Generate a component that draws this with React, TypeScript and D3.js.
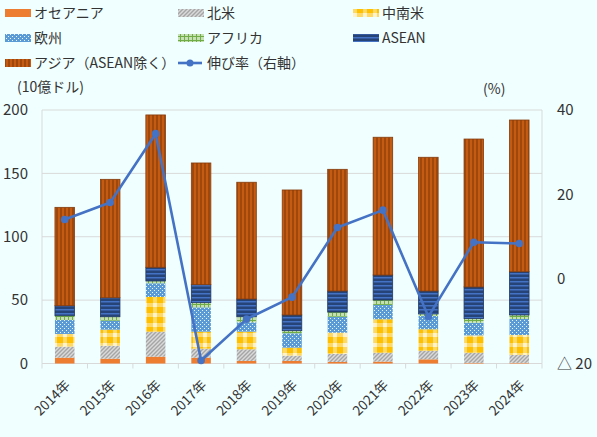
import React, { useEffect, useRef } from 'react';
import * as d3 from 'd3';

const years = ['2014年', '2015年', '2016年', '2017年', '2018年', '2019年', '2020年', '2021年', '2022年', '2023年', '2024年'];

// 地域別の値（10億ドル）
const oceania = [4.6, 3.8, 5.4, 4.6, 2.0, 2.0, 1.2, 1.5, 3.3, 0.5, 0.5];
const northAmerica = [8.7, 10.2, 19.7, 7.1, 9.2, 4.2, 6.3, 7.0, 6.8, 8.0, 6.2];
const latinAmerica = [10.0, 12.7, 27.4, 13.4, 13.9, 6.3, 16.8, 26.4, 16.9, 13.7, 15.8];
const europe = [11.0, 7.1, 10.8, 19.2, 7.4, 11.3, 12.6, 11.3, 10.5, 10.0, 12.6];
const africa = [3.4, 3.1, 1.8, 3.7, 4.4, 2.1, 3.7, 3.9, 1.6, 3.2, 3.2];
const asean = [7.9, 15.0, 10.8, 14.2, 14.0, 12.4, 16.6, 19.7, 18.1, 25.0, 34.1];
const asiaExAsean = [77.6, 93.4, 120.2, 96.0, 92.1, 98.6, 96.0, 108.7, 105.5, 116.7, 119.7];

// 伸び率（％、右軸）
const growth = [14.1, 18.1, 34.4, -19.3, -9.5, -4.3, 12.2, 16.3, -8.9, 8.7, 8.4];

const leftTicks = [0, 50, 100, 150, 200];
const rightTicks = [-20, 0, 20, 40];

const series = [
  { name: 'オセアニア', values: oceania, fill: '#ED7D31', stroke: 'none' },
  { name: '北米', values: northAmerica, fill: 'url(#p-na)', stroke: 'none' },
  { name: '中南米', values: latinAmerica, fill: 'url(#p-la)', stroke: 'none' },
  { name: '欧州', values: europe, fill: 'url(#p-eu)', stroke: 'none' },
  { name: 'アフリカ', values: africa, fill: 'url(#p-af)', stroke: 'none' },
  { name: 'ASEAN', values: asean, fill: 'url(#p-asean)', stroke: '#1F3864' },
  { name: 'アジア（ASEAN除く）', values: asiaExAsean, fill: 'url(#p-asia)', stroke: '#843C0C' },
];

const font = '"Noto Sans CJK JP", "Noto Sans", sans-serif';

export default function App() {
  const ref = useRef<SVGSVGElement>(null);

  useEffect(() => {
    const width = 597;
    const height = 437;
    const left = 42, right = 542, top = 110, bottom = 363.5;

    const svg = d3.select(ref.current);
    svg.selectAll('*').remove();
    svg.attr('width', width).attr('height', height);

    svg.append('rect').attr('width', width).attr('height', height).attr('fill', '#F0FFFF');

    // 塗りパターン
    const defs = svg.append('defs');

    const na = defs.append('pattern').attr('id', 'p-na').attr('patternUnits', 'userSpaceOnUse')
      .attr('width', 4).attr('height', 4);
    na.append('rect').attr('width', 4).attr('height', 4).attr('fill', '#DADADA');
    na.append('path').attr('d', 'M-1,1 l2,-2 M0,4 l4,-4 M3,5 l2,-2')
      .attr('stroke', '#A5A5A5').attr('stroke-width', 1.4);

    const la = defs.append('pattern').attr('id', 'p-la').attr('patternUnits', 'userSpaceOnUse')
      .attr('width', 10).attr('height', 10);
    la.append('rect').attr('width', 10).attr('height', 10).attr('fill', '#FFC000');
    la.append('rect').attr('x', 3).attr('width', 4).attr('height', 10).attr('fill', '#FFD966');
    la.append('rect').attr('y', 3).attr('width', 10).attr('height', 4).attr('fill', '#FFD966');
    la.append('rect').attr('x', 3).attr('y', 3).attr('width', 4).attr('height', 4).attr('fill', '#FFF2CC');

    const eu = defs.append('pattern').attr('id', 'p-eu').attr('patternUnits', 'userSpaceOnUse')
      .attr('width', 4).attr('height', 4);
    eu.append('rect').attr('width', 4).attr('height', 4).attr('fill', '#5B9BD5');
    eu.append('rect').attr('x', 0).attr('y', 0).attr('width', 1).attr('height', 1).attr('fill', '#EAF2FA');
    eu.append('rect').attr('x', 2).attr('y', 2).attr('width', 1).attr('height', 1).attr('fill', '#EAF2FA');

    const af = defs.append('pattern').attr('id', 'p-af').attr('patternUnits', 'userSpaceOnUse')
      .attr('width', 4).attr('height', 4);
    af.append('rect').attr('width', 4).attr('height', 4).attr('fill', '#70AD47');
    af.append('rect').attr('x', 1).attr('y', 1).attr('width', 3).attr('height', 3).attr('fill', '#C5E0B4');

    const as = defs.append('pattern').attr('id', 'p-asean').attr('patternUnits', 'userSpaceOnUse')
      .attr('width', 4).attr('height', 4);
    as.append('rect').attr('width', 4).attr('height', 4).attr('fill', '#264478');
    as.append('rect').attr('y', 1).attr('width', 4).attr('height', 1.5).attr('fill', '#4472C4');

    const asia = defs.append('pattern').attr('id', 'p-asia').attr('patternUnits', 'userSpaceOnUse')
      .attr('width', 4).attr('height', 4);
    asia.append('rect').attr('width', 4).attr('height', 4).attr('fill', '#9E480E');
    asia.append('rect').attr('x', 2).attr('width', 2).attr('height', 4).attr('fill', '#C55A11');

    const x = d3.scaleBand<string>().domain(years).range([left, right]).paddingInner(0.57).paddingOuter(0.285);
    const y = d3.scaleLinear().domain([0, 200]).range([bottom, top]);
    const y2 = d3.scaleLinear().domain([-20, 40]).range([bottom, top]);

    // グリッド
    svg.append('g').selectAll('line').data(leftTicks).enter().append('line')
      .attr('x1', left).attr('x2', right)
      .attr('y1', d => y(d)).attr('y2', d => y(d))
      .attr('stroke', '#D9D9D9').attr('stroke-width', 1);
    svg.append('line').attr('x1', left).attr('x2', left).attr('y1', top).attr('y2', bottom)
      .attr('stroke', '#D9D9D9');
    svg.append('line').attr('x1', right).attr('x2', right).attr('y1', top).attr('y2', bottom)
      .attr('stroke', '#D9D9D9');

    // x軸の目盛り
    const edges = years.map((_, i) => left + i * x.step()).concat([right]);
    svg.append('g').selectAll('line').data(edges).enter().append('line')
      .attr('x1', d => d).attr('x2', d => d).attr('y1', bottom).attr('y2', bottom + 5)
      .attr('stroke', '#D9D9D9');

    // 積み上げ棒
    const stackData = years.map((yr, i) => {
      const row: any = { year: yr };
      series.forEach(s => { row[s.name] = s.values[i]; });
      return row;
    });
    const stacked = d3.stack().keys(series.map(s => s.name))(stackData);

    stacked.forEach((layer, k) => {
      svg.append('g').selectAll('rect').data(layer).enter().append('rect')
        .attr('x', (d: any) => x(d.data.year)!)
        .attr('width', x.bandwidth())
        .attr('y', d => y(d[1]))
        .attr('height', d => y(d[0]) - y(d[1]))
        .attr('fill', series[k].fill)
        .attr('stroke', series[k].stroke)
        .attr('stroke-width', 0.8);
    });

    // 伸び率
    const line = d3.line<number>()
      .x((_, i) => x(years[i])! + x.bandwidth() / 2)
      .y(d => y2(d));
    svg.append('path').datum(growth).attr('d', line)
      .attr('fill', 'none').attr('stroke', '#4472C4').attr('stroke-width', 2.6)
      .attr('stroke-linejoin', 'round');
    svg.append('g').selectAll('circle').data(growth).enter().append('circle')
      .attr('cx', (_, i) => x(years[i])! + x.bandwidth() / 2)
      .attr('cy', d => y2(d))
      .attr('r', 3.8)
      .attr('fill', '#4472C4');

    // 軸ラベル
    svg.append('g').selectAll('text').data(leftTicks).enter().append('text')
      .attr('x', 28).attr('y', d => y(d)).attr('dy', '0.35em')
      .attr('text-anchor', 'end')
      .style('font-family', font).style('font-size', '15px').attr('fill', '#333')
      .text(d => d);
    svg.append('g').selectAll('text').data(rightTicks).enter().append('text')
      .attr('x', 557).attr('y', d => y2(d)).attr('dy', '0.35em')
      .style('font-family', font).style('font-size', '15px').attr('fill', '#333')
      .text(d => d < 0 ? '△ ' + Math.abs(d) : d);

    svg.append('g').selectAll('text').data(years).enter().append('text')
      .attr('transform', d => `translate(${x(d)! + x.bandwidth() / 2 + 3},${bottom + 19}) rotate(-45)`)
      .attr('text-anchor', 'end').attr('dy', '0.35em')
      .style('font-family', font).style('font-size', '13.5px').attr('fill', '#333')
      .text(d => d);

    svg.append('text').attr('x', 17).attr('y', 87).attr('dy', '0.35em')
      .style('font-family', font).style('font-size', '14px').attr('fill', '#333')
      .text('(10億ドル)');
    svg.append('text').attr('x', 483).attr('y', 89).attr('dy', '0.35em')
      .style('font-family', font).style('font-size', '14px').attr('fill', '#333')
      .text('(%)');

    // 凡例
    const legendItems = series.map(s => ({ name: s.name, fill: s.fill, line: false }))
      .concat([{ name: '伸び率（右軸）', fill: '#4472C4', line: true }]);
    const colX = [5, 178, 353];
    const rowY = [13, 38, 63];
    legendItems.forEach((item, i) => {
      const lx = colX[i % 3];
      const ly = rowY[Math.floor(i / 3)];
      const g = svg.append('g');
      if (item.line) {
        g.append('line').attr('x1', lx).attr('x2', lx + 24).attr('y1', ly).attr('y2', ly)
          .attr('stroke', '#4472C4').attr('stroke-width', 2.6);
        g.append('circle').attr('cx', lx + 12).attr('cy', ly).attr('r', 3.5).attr('fill', '#4472C4');
      } else {
        g.append('rect').attr('x', lx).attr('y', ly - 4).attr('width', 26).attr('height', 8)
          .attr('fill', item.fill);
      }
      g.append('text').attr('x', lx + 29).attr('y', ly).attr('dy', '0.35em')
        .style('font-family', font).style('font-size', '14px').attr('fill', '#333')
        .text(item.name);
    });
  }, []);

  return (
    <div style={{ position: 'absolute', left: 0, top: 0 }}>
      <svg ref={ref} style={{ display: 'block' }} />
    </div>
  );
}
